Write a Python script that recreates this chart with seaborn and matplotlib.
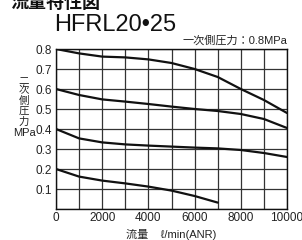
import matplotlib
matplotlib.use("Agg")
import matplotlib.pyplot as plt
import seaborn as sns
import pandas as pd

flow = [0, 1000, 2000, 3000, 4000, 5000, 6000, 7000, 8000, 9000, 10000]
p08 = [0.80, 0.778, 0.762, 0.758, 0.748, 0.730, 0.700, 0.660, 0.600, 0.545, 0.480]
p06 = [0.60, 0.570, 0.548, 0.537, 0.525, 0.512, 0.500, 0.490, 0.475, 0.450, 0.405]
p04 = [0.40, 0.353, 0.333, 0.323, 0.317, 0.312, 0.307, 0.303, 0.295, 0.280, 0.260]
flow02 = [0, 1000, 2000, 3000, 4000, 5000, 6000, 7000]
p02 = [0.20, 0.162, 0.142, 0.128, 0.112, 0.092, 0.065, 0.032]

xticks = [0, 2000, 4000, 6000, 8000, 10000]
yticks = [0.1, 0.2, 0.3, 0.4, 0.5, 0.6, 0.7, 0.8]

sns.set_theme(style="white")
plt.rcParams['font.family'] = ['Liberation Sans', 'Noto Sans CJK JP', 'DejaVu Sans']

fig = plt.figure(figsize=(3.02, 2.40), dpi=100)
ax = fig.add_axes([56/302, 1-209/240, (287-56)/302, (209-49)/240])

frames = []
for name, xs, ys in [("0.8", flow, p08), ("0.6", flow, p06), ("0.4", flow, p04), ("0.2", flow02, p02)]:
    frames.append(pd.DataFrame({"flow": xs, "p": ys, "s": name}))
df = pd.concat(frames)
sns.lineplot(data=df, x="flow", y="p", units="s", estimator=None, color="#111111",
             linewidth=1.6, ax=ax, legend=False)

ax.set_xlim(0, 10000)
ax.set_ylim(0, 0.8)
ax.set_xticks(range(0, 10001, 1000))
ax.set_xticklabels([str(v) if v in xticks else "" for v in range(0, 10001, 1000)])
ax.set_yticks([i/10 for i in range(0, 9)])
ax.set_yticklabels([""] + [f"{v:.1f}" for v in yticks])
ax.grid(True, color="#333333", linewidth=0.9)
for s in ax.spines.values():
    s.set_color("#111111")
    s.set_linewidth(1.0)
ax.tick_params(axis="both", length=0, labelsize=8.5, colors="#222222", pad=3)
ax.tick_params(axis="x", pad=2)
ax.set_xlabel("")
ax.set_ylabel("")

fig.text(54/302, 1-31/240, "HFRL20•25", fontsize=17, ha="left", va="baseline", color="#111111")
fig.text(10/302, 1-8/240, "流量特性図", fontsize=13, fontweight="bold", ha="left", va="baseline",
         color="#111111")
fig.text(287/302, 1-44/240, "一次側圧力：0.8MPa", fontsize=8, ha="right", va="baseline", color="#222222")
fig.text(24/302, 1-101/240, "二\n次\n側\n圧\n力", fontsize=7.5, ha="center", va="center",
         linespacing=1.05, color="#222222")
fig.text(24/302, 1-133/240, "MPa", fontsize=8, ha="center", va="center", color="#222222")
fig.text(171/302, 1-234/240, "流量    ℓ/min(ANR)", fontsize=8, ha="center", va="center", color="#222222")

fig.savefig("out.png", dpi=100)
